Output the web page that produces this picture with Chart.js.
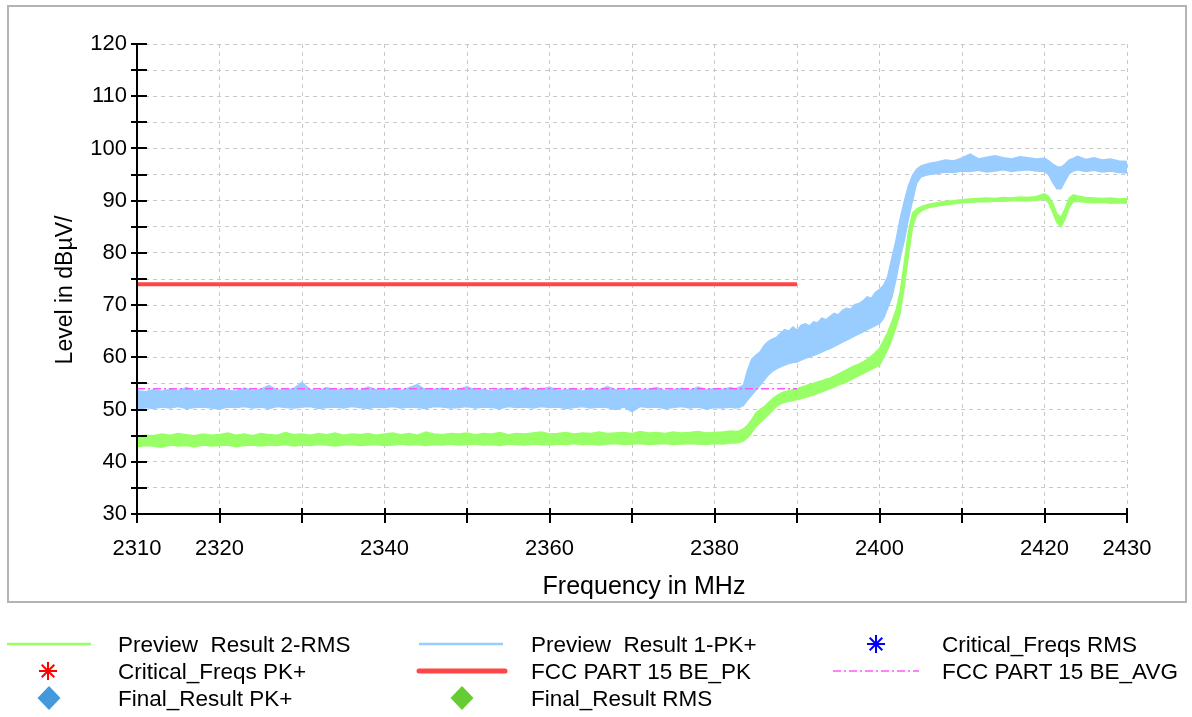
<!DOCTYPE html>
<html>
<head>
<meta charset="utf-8">
<script src="https://cdn.jsdelivr.net/npm/chart.js@4.4.1/dist/chart.umd.min.js"></script>
<style>
  html, body { margin: 0; padding: 0; background: #fff; }
  #wrap { position: relative; width: 1192px; height: 717px; overflow: hidden;
          font-family: "Liberation Sans", Arial, sans-serif; }
  #chart { position: absolute; left: 0; top: 0; }
  #marks { position: absolute; left: 0; top: 0; }
  .lg { position: absolute; font-size: 22.5px; line-height: 26px; color: #000; white-space: pre; }
</style>
</head>
<body>
<div id="wrap">
  <canvas id="chart" width="1192" height="717"></canvas>
  <svg id="marks" width="1192" height="717" xmlns="http://www.w3.org/2000/svg"></svg>
  <div id="legend"></div>
</div>
<script>
// ---- measurement data -------------------------------------------------
// Sweep frequencies (MHz); finer steps where the traces change quickly.
const freqs = [
  2310, 2311, 2312, 2313, 2314, 2315, 2316, 2317, 2318, 2319,
  2320, 2321, 2322, 2323, 2324, 2325, 2326, 2327, 2328, 2329,
  2330, 2331, 2332, 2333, 2334, 2335, 2336, 2337, 2338, 2339,
  2340, 2341, 2342, 2343, 2344, 2345, 2346, 2347, 2348, 2349,
  2350, 2351, 2352, 2353, 2354, 2355, 2356, 2357, 2358, 2359,
  2360, 2361, 2362, 2363, 2364, 2365, 2366, 2367, 2368, 2369,
  2370, 2371, 2372, 2373, 2374, 2375, 2376, 2377, 2378, 2379,
  2380, 2381, 2382,
  2382.5, 2383, 2383.5, 2384, 2384.5, 2385, 2385.5, 2386, 2386.5, 2387,
  2387.5, 2388, 2388.5, 2389, 2389.5, 2390, 2390.5, 2391, 2391.5, 2392,
  2392.5, 2393, 2393.5, 2394, 2394.5, 2395, 2395.5, 2396, 2396.5, 2397,
  2397.5, 2398, 2398.5, 2399, 2399.5, 2400, 2400.5, 2401, 2401.5, 2402,
  2402.5, 2403, 2403.5, 2404, 2404.5, 2405, 2405.5, 2406,
  2407, 2408, 2409, 2410, 2411, 2412, 2413, 2414, 2415, 2416, 2417, 2418, 2419, 2420,
  2420.5, 2421, 2421.5, 2422, 2422.5, 2423, 2423.5,
  2424, 2425, 2426, 2427, 2428, 2429, 2430
];

// Preview Result 1 (PK+): upper and lower edge of the trace, dBµV
const pkUpper = [
  53.6, 53.4, 53.8, 53.5, 53.9, 53.6, 54.2, 53.5, 53.8, 53.6,
  54.0, 53.7, 53.5, 54.1, 53.6, 53.9, 54.6, 53.7, 53.8, 54.0,
  55.2, 53.8, 53.6, 54.2, 53.7, 53.9, 54.1, 53.6, 54.3, 53.8,
  53.7, 54.0, 53.6, 54.2, 54.8, 53.7, 53.9, 54.1, 53.6, 53.8,
  54.4, 53.7, 53.9, 53.5, 54.0, 53.8, 53.6, 54.2, 53.7, 53.9,
  54.3, 53.6, 53.8, 54.0, 53.5, 54.1, 53.7, 54.4, 53.8, 53.6,
  54.0, 53.7, 53.9, 54.2, 53.6, 53.8, 54.1, 53.7, 54.3, 53.8,
  54.0, 53.9, 54.2,
  53.9, 54.3, 54.6, 57.5, 59.6, 60.4, 61.0, 62.2, 63.0, 63.5,
  63.8, 64.6, 65.3, 65.0, 65.8, 65.2, 66.1, 66.4, 66.0, 66.8,
  66.6, 67.5, 67.2, 67.8, 68.4, 68.1, 69.0, 69.4, 69.2, 70.1,
  70.3, 70.8, 71.6, 71.3, 72.4, 73.0, 73.8, 75.5, 79.0, 82.4,
  86.5, 89.8, 92.8, 94.8, 96.0, 96.6, 96.9, 97.1,
  97.4, 97.8, 97.6, 98.2, 98.9, 98.0, 98.3, 98.6, 98.2, 98.0, 98.4, 98.2, 98.0, 98.1,
  97.6, 97.0, 96.5, 96.4, 97.0, 97.8, 98.1,
  98.5, 97.9, 98.2, 97.8, 98.0, 97.6, 97.5
];
const pkLower = [
  49.8, 50.4, 50.2, 50.5, 50.3, 50.6, 50.2, 50.4, 50.5, 50.3,
  50.1, 50.5, 50.4, 50.6, 50.3, 50.5, 50.2, 50.6, 50.4, 50.3,
  50.5, 50.6, 50.2, 50.4, 50.5, 50.3, 50.6, 50.4, 50.2, 50.5,
  50.4, 50.6, 50.3, 50.5, 50.4, 50.2, 50.6, 50.5, 50.3, 50.4,
  50.6, 50.3, 50.5, 50.4, 50.2, 50.6, 50.4, 50.5, 50.3, 50.6,
  50.4, 50.5, 50.2, 50.4, 50.6, 50.3, 50.5, 50.4, 50.0, 50.5,
  49.6, 50.6, 50.4, 50.5, 50.2, 50.4, 50.6, 50.3, 50.5, 50.1,
  50.4, 50.3, 50.5,
  50.3, 50.4, 50.8, 51.8, 52.8, 53.7, 54.6, 55.6, 56.6, 57.3,
  57.8, 58.2, 58.5, 58.8, 59.0, 59.1, 59.5, 59.8, 60.1, 60.4,
  60.7, 61.0, 61.4, 61.7, 62.1, 62.5, 62.9, 63.3, 63.7, 64.1,
  64.5, 64.9, 65.3, 65.7, 66.1, 66.5, 67.5, 69.5, 71.5, 75.0,
  79.0, 82.4, 86.5, 90.0, 93.3, 94.5, 94.8, 95.0,
  95.2, 95.5, 95.4, 95.7, 95.6, 95.8, 95.5, 95.7, 95.9, 95.6, 95.8, 95.9, 95.7, 95.6,
  95.0, 93.5, 92.3, 92.3, 93.8, 95.2, 95.7,
  95.9, 95.6, 95.8, 95.5, 95.7, 95.4, 95.3
];

// Preview Result 2 (RMS): upper and lower edge of the trace, dBµV
const rmsUpper = [
  44.9, 45.1, 45.0, 45.3, 45.1, 45.4, 45.2, 45.0, 45.3, 45.1,
  45.2, 45.5, 45.1, 45.3, 45.0, 45.4, 45.2, 45.1, 45.6, 45.2,
  45.3, 45.1, 45.4, 45.2, 45.5, 45.1, 45.3, 45.2, 45.4, 45.1,
  45.3, 45.5, 45.2, 45.4, 45.1, 45.7, 45.3, 45.2, 45.4, 45.3,
  45.5, 45.2, 45.4, 45.3, 45.6, 45.2, 45.4, 45.3, 45.5, 45.7,
  45.3, 45.4, 45.6, 45.3, 45.5, 45.4, 45.7, 45.4, 45.5, 45.6,
  45.4, 45.8, 45.5, 45.6, 45.4, 45.7, 45.5, 45.6, 45.8, 45.5,
  45.6, 45.7, 45.9,
  45.8, 45.9, 46.3, 47.0, 48.0, 49.3, 50.0, 50.5, 51.3, 52.0,
  52.6, 53.1, 53.4, 53.6, 53.8, 54.0, 54.3, 54.5, 54.8, 55.0,
  55.3, 55.5, 55.8, 56.0, 56.4, 56.8, 57.2, 57.6, 58.0, 58.4,
  58.7, 59.1, 59.6, 60.2, 60.9, 61.7, 63.2, 64.8, 66.8, 69.0,
  72.5, 78.0, 84.0, 87.6, 88.4, 88.8, 89.1, 89.3,
  89.6, 89.9, 90.0, 90.2, 90.3, 90.4, 90.5, 90.4, 90.6, 90.5, 90.7, 90.6, 90.8, 91.3,
  90.8, 89.5, 87.5, 86.8, 88.5, 90.5, 91.1,
  90.9, 90.6, 90.5, 90.4, 90.5, 90.3, 90.4
];
const rmsLower = [
  42.9, 43.1, 43.0, 42.8, 43.2, 43.0, 43.1, 42.9, 43.2, 43.0,
  43.1, 43.2, 42.9, 43.1, 43.2, 43.0, 43.2, 43.1, 43.3, 43.0,
  43.2, 43.1, 43.3, 43.2, 43.0, 43.2, 43.3, 43.1, 43.2, 43.3,
  43.1, 43.2, 43.4, 43.2, 43.3, 43.1, 43.3, 43.2, 43.4, 43.2,
  43.3, 43.4, 43.2, 43.3, 43.1, 43.4, 43.3, 43.2, 43.4, 43.3,
  43.2, 43.4, 43.3, 43.5, 43.3, 43.4, 43.2, 43.4, 43.5, 43.3,
  43.4, 43.5, 43.3, 43.4, 43.5, 43.3, 43.4, 43.5, 43.4, 43.3,
  43.5, 43.4, 43.6,
  43.6, 43.7, 44.0, 44.6, 45.6, 46.7, 47.5, 48.2, 49.0, 49.8,
  50.6, 51.1, 51.4, 51.6, 51.7, 51.9, 52.1, 52.3, 52.6, 52.8,
  53.1, 53.4, 53.7, 54.0, 54.3, 54.7, 55.0, 55.3, 55.7, 56.1,
  56.5, 56.9, 57.3, 57.7, 58.1, 58.5, 60.0, 61.5, 63.5, 65.8,
  68.5, 73.5, 79.5, 85.0, 87.2, 88.0, 88.4, 88.7,
  89.0, 89.2, 89.4, 89.6, 89.7, 89.8, 89.8, 89.9, 89.9, 90.0, 90.0, 90.0, 90.1, 90.3,
  89.6, 87.8, 85.8, 85.0, 86.5, 88.8, 89.8,
  89.9, 89.7, 89.6, 89.7, 89.5, 89.6, 89.5
];

// FCC Part 15 limit lines (restricted band edge)
const limitFreqs = [2310, 2390];
const pkLimit = [74, 74];
const avgLimit = [54, 54];

// Axis ticks and titles
const xGridValues = [2310, 2320, 2330, 2340, 2350, 2360, 2370, 2380, 2390, 2400, 2410, 2420, 2430];
const xTickLabels = [2310, 2320, 2340, 2360, 2380, 2400, 2420, 2430];
const yGridValues = [30, 35, 40, 45, 50, 55, 60, 65, 70, 75, 80, 85, 90, 95, 100, 105, 110, 115, 120];
const yTickLabels = [30, 40, 50, 60, 70, 80, 90, 100, 110, 120];
const xAxisTitle = 'Frequency in MHz';
const yAxisTitle = 'Level in dBµV/';

// ---- styling --------------------------------------------------------------
const FONT = '"Liberation Sans", Arial, sans-serif';
const GREEN = '#99ff66';
const BLUE = '#99ccff';
const RED = '#ff4646';
const MAGENTA = '#ff55ff';

Chart.defaults.font.family = FONT;
Chart.defaults.color = '#000';

const pts = (xs, ys) => xs.map((x, i) => ({ x: x, y: ys[i] }));

const traceStyle = (color) => ({
  borderColor: color, backgroundColor: color, borderWidth: 1.5,
  pointRadius: 0, tension: 0
});

const datasets = [
  Object.assign({ label: 'Preview  Result 2-RMS', data: pts(freqs, rmsLower), fill: false, order: 4 }, traceStyle(GREEN)),
  Object.assign({ label: 'Preview  Result 2-RMS', data: pts(freqs, rmsUpper), fill: '-1', order: 4 }, traceStyle(GREEN)),
  Object.assign({ label: 'Preview  Result 1-PK+', data: pts(freqs, pkLower), fill: false, order: 3 }, traceStyle(BLUE)),
  Object.assign({ label: 'Preview  Result 1-PK+', data: pts(freqs, pkUpper), fill: '-1', order: 3 }, traceStyle(BLUE)),
  { label: 'FCC PART 15 BE_PK', data: pts(limitFreqs, pkLimit), borderColor: RED, borderWidth: 4,
    pointRadius: 0, fill: false, order: 1 },
  { label: 'FCC PART 15 BE_AVG', data: pts(limitFreqs, avgLimit), borderColor: MAGENTA, borderWidth: 1.5,
    borderDash: [8, 3, 2, 3], pointRadius: 0, fill: false, order: 2 },
  { label: 'Critical_Freqs PK+', data: [], showLine: false, pointStyle: 'star', borderColor: '#ff0000', order: 0 },
  { label: 'Critical_Freqs RMS', data: [], showLine: false, pointStyle: 'star', borderColor: '#0000ff', order: 0 },
  { label: 'Final_Result PK+', data: [], showLine: false, pointStyle: 'rectRot', backgroundColor: '#4499dd', order: 0 },
  { label: 'Final_Result RMS', data: [], showLine: false, pointStyle: 'rectRot', backgroundColor: '#66cc33', order: 0 }
];

// Frame, axis lines, the tick marks that cross the axes, and the axis titles
const axesPlugin = {
  id: 'axesPlugin',
  beforeDraw(chart) {
    const ctx = chart.ctx;
    ctx.save();
    ctx.fillStyle = '#fff';
    ctx.fillRect(0, 0, chart.width, chart.height);
    ctx.strokeStyle = '#b4b4b4';
    ctx.lineWidth = 2;
    ctx.strokeRect(8, 6, 1178, 596);
    ctx.restore();
  },
  afterDatasetsDraw(chart) {
    const { ctx, chartArea: a, scales } = chart;
    const xs = scales.x, ys = scales.y;
    ctx.save();
    ctx.strokeStyle = '#000';
    ctx.lineWidth = 2;
    ctx.beginPath();
    ctx.moveTo(a.left, a.top); ctx.lineTo(a.left, a.bottom);
    ctx.moveTo(a.left, a.bottom); ctx.lineTo(a.right, a.bottom);
    yGridValues.forEach(v => {
      const py = Math.round(ys.getPixelForValue(v));
      ctx.moveTo(a.left - 6, py); ctx.lineTo(a.left + 10, py);
    });
    xGridValues.forEach(v => {
      const px = Math.round(xs.getPixelForValue(v));
      ctx.moveTo(px, a.bottom - 6); ctx.lineTo(px, a.bottom + 9);
    });
    ctx.stroke();

    ctx.fillStyle = '#000';
    ctx.textAlign = 'center';
    ctx.textBaseline = 'middle';
    // frequency title under the x axis
    ctx.font = '25px ' + FONT;
    ctx.fillText(xAxisTitle, 644, 587);
    // rotated level title beside the y axis
    ctx.translate(66, 290);
    ctx.rotate(-Math.PI / 2);
    ctx.font = '23px ' + FONT;
    ctx.fillText(yAxisTitle, 0, 0);
    ctx.restore();
  }
};

new Chart(document.getElementById('chart'), {
  type: 'line',
  data: { datasets: datasets },
  options: {
    responsive: false,
    animation: false,
    layout: { padding: { left: 53, top: 44, right: 65, bottom: 115 } },
    plugins: { legend: { display: false }, tooltip: { enabled: false } },
    scales: {
      x: {
        type: 'linear', min: 2310, max: 2430,
        afterBuildTicks: s => { s.ticks = xGridValues.map(v => ({ value: v })); },
        afterFit: s => { s.height = 88; },
        grid: { color: '#c8c8c8', lineWidth: 1, drawTicks: false },
        border: { display: false, dash: [4, 4] },
        ticks: {
          autoSkip: false, maxRotation: 0, padding: 22, font: { size: 22 },
          callback: v => xTickLabels.includes(v) ? String(v) : ''
        },
        title: { display: false, text: xAxisTitle }
      },
      y: {
        type: 'linear', min: 30, max: 120,
        afterBuildTicks: s => { s.ticks = yGridValues.map(v => ({ value: v })); },
        afterFit: s => { s.width = 84; },
        grid: { color: '#c8c8c8', lineWidth: 1, drawTicks: false },
        border: { display: false, dash: [4, 4] },
        ticks: {
          autoSkip: false, padding: 10, font: { size: 22 },
          callback: v => yTickLabels.includes(v) ? String(v) : ''
        },
        title: { display: false, text: yAxisTitle }
      }
    }
  },
  plugins: [axesPlugin]
});

// ---- legend below the chart ----------------------------------------------
const legendEntries = [
  { label: 'Preview  Result 2-RMS', col: 0, row: 0, mark: { type: 'line', x1: 7, x2: 91, color: GREEN, w: 2.5 } },
  { label: 'Preview  Result 1-PK+', col: 1, row: 0, mark: { type: 'line', x1: 419, x2: 503, color: BLUE, w: 2.5 } },
  { label: 'Critical_Freqs RMS',    col: 2, row: 0, mark: { type: 'star', cx: 876, color: '#0000ff' } },
  { label: 'Critical_Freqs PK+',    col: 0, row: 1, mark: { type: 'star', cx: 48, color: '#ff0000' } },
  { label: 'FCC PART 15 BE_PK',     col: 1, row: 1, mark: { type: 'line', x1: 419, x2: 505, color: RED, w: 5, cap: 'round' } },
  { label: 'FCC PART 15 BE_AVG',    col: 2, row: 1, mark: { type: 'line', x1: 833, x2: 919, color: MAGENTA, w: 1.5, dash: '8 3 2 3' } },
  { label: 'Final_Result PK+',      col: 0, row: 2, mark: { type: 'diamond', cx: 49, color: '#4499dd' } },
  { label: 'Final_Result RMS',      col: 1, row: 2, mark: { type: 'diamond', cx: 462, color: '#66cc33' } }
];
const colX = [118, 531, 942];
const rowMid = [644, 671, 698];

const svgNS = 'http://www.w3.org/2000/svg';
const marks = document.getElementById('marks');
const legend = document.getElementById('legend');
const el = (name, attrs) => {
  const e = document.createElementNS(svgNS, name);
  Object.keys(attrs).forEach(k => e.setAttribute(k, attrs[k]));
  marks.appendChild(e);
};

legendEntries.forEach(item => {
  const y = rowMid[item.row];
  const m = item.mark;
  if (m.type === 'line') {
    el('line', { x1: m.x1, x2: m.x2, y1: y, y2: y, stroke: m.color, 'stroke-width': m.w,
                 'stroke-linecap': m.cap || 'butt', 'stroke-dasharray': m.dash || 'none' });
  } else if (m.type === 'star') {
    const r = 9;
    [[0, -r, 0, r], [-r, 0, r, 0], [-r * 0.7, -r * 0.7, r * 0.7, r * 0.7], [-r * 0.7, r * 0.7, r * 0.7, -r * 0.7]]
      .forEach(s => el('line', { x1: m.cx + s[0], y1: y + s[1], x2: m.cx + s[2], y2: y + s[3],
                                  stroke: m.color, 'stroke-width': 2 }));
  } else if (m.type === 'diamond') {
    const hw = 11.5, hh = 12;
    el('polygon', { points: `${m.cx},${y - hh} ${m.cx + hw},${y} ${m.cx},${y + hh} ${m.cx - hw},${y}`,
                    fill: m.color });
  }
  const t = document.createElement('div');
  t.className = 'lg';
  t.textContent = item.label;
  t.style.left = colX[item.col] + 'px';
  t.style.top = (y - 12) + 'px';
  legend.appendChild(t);
});
</script>
</body>
</html>
